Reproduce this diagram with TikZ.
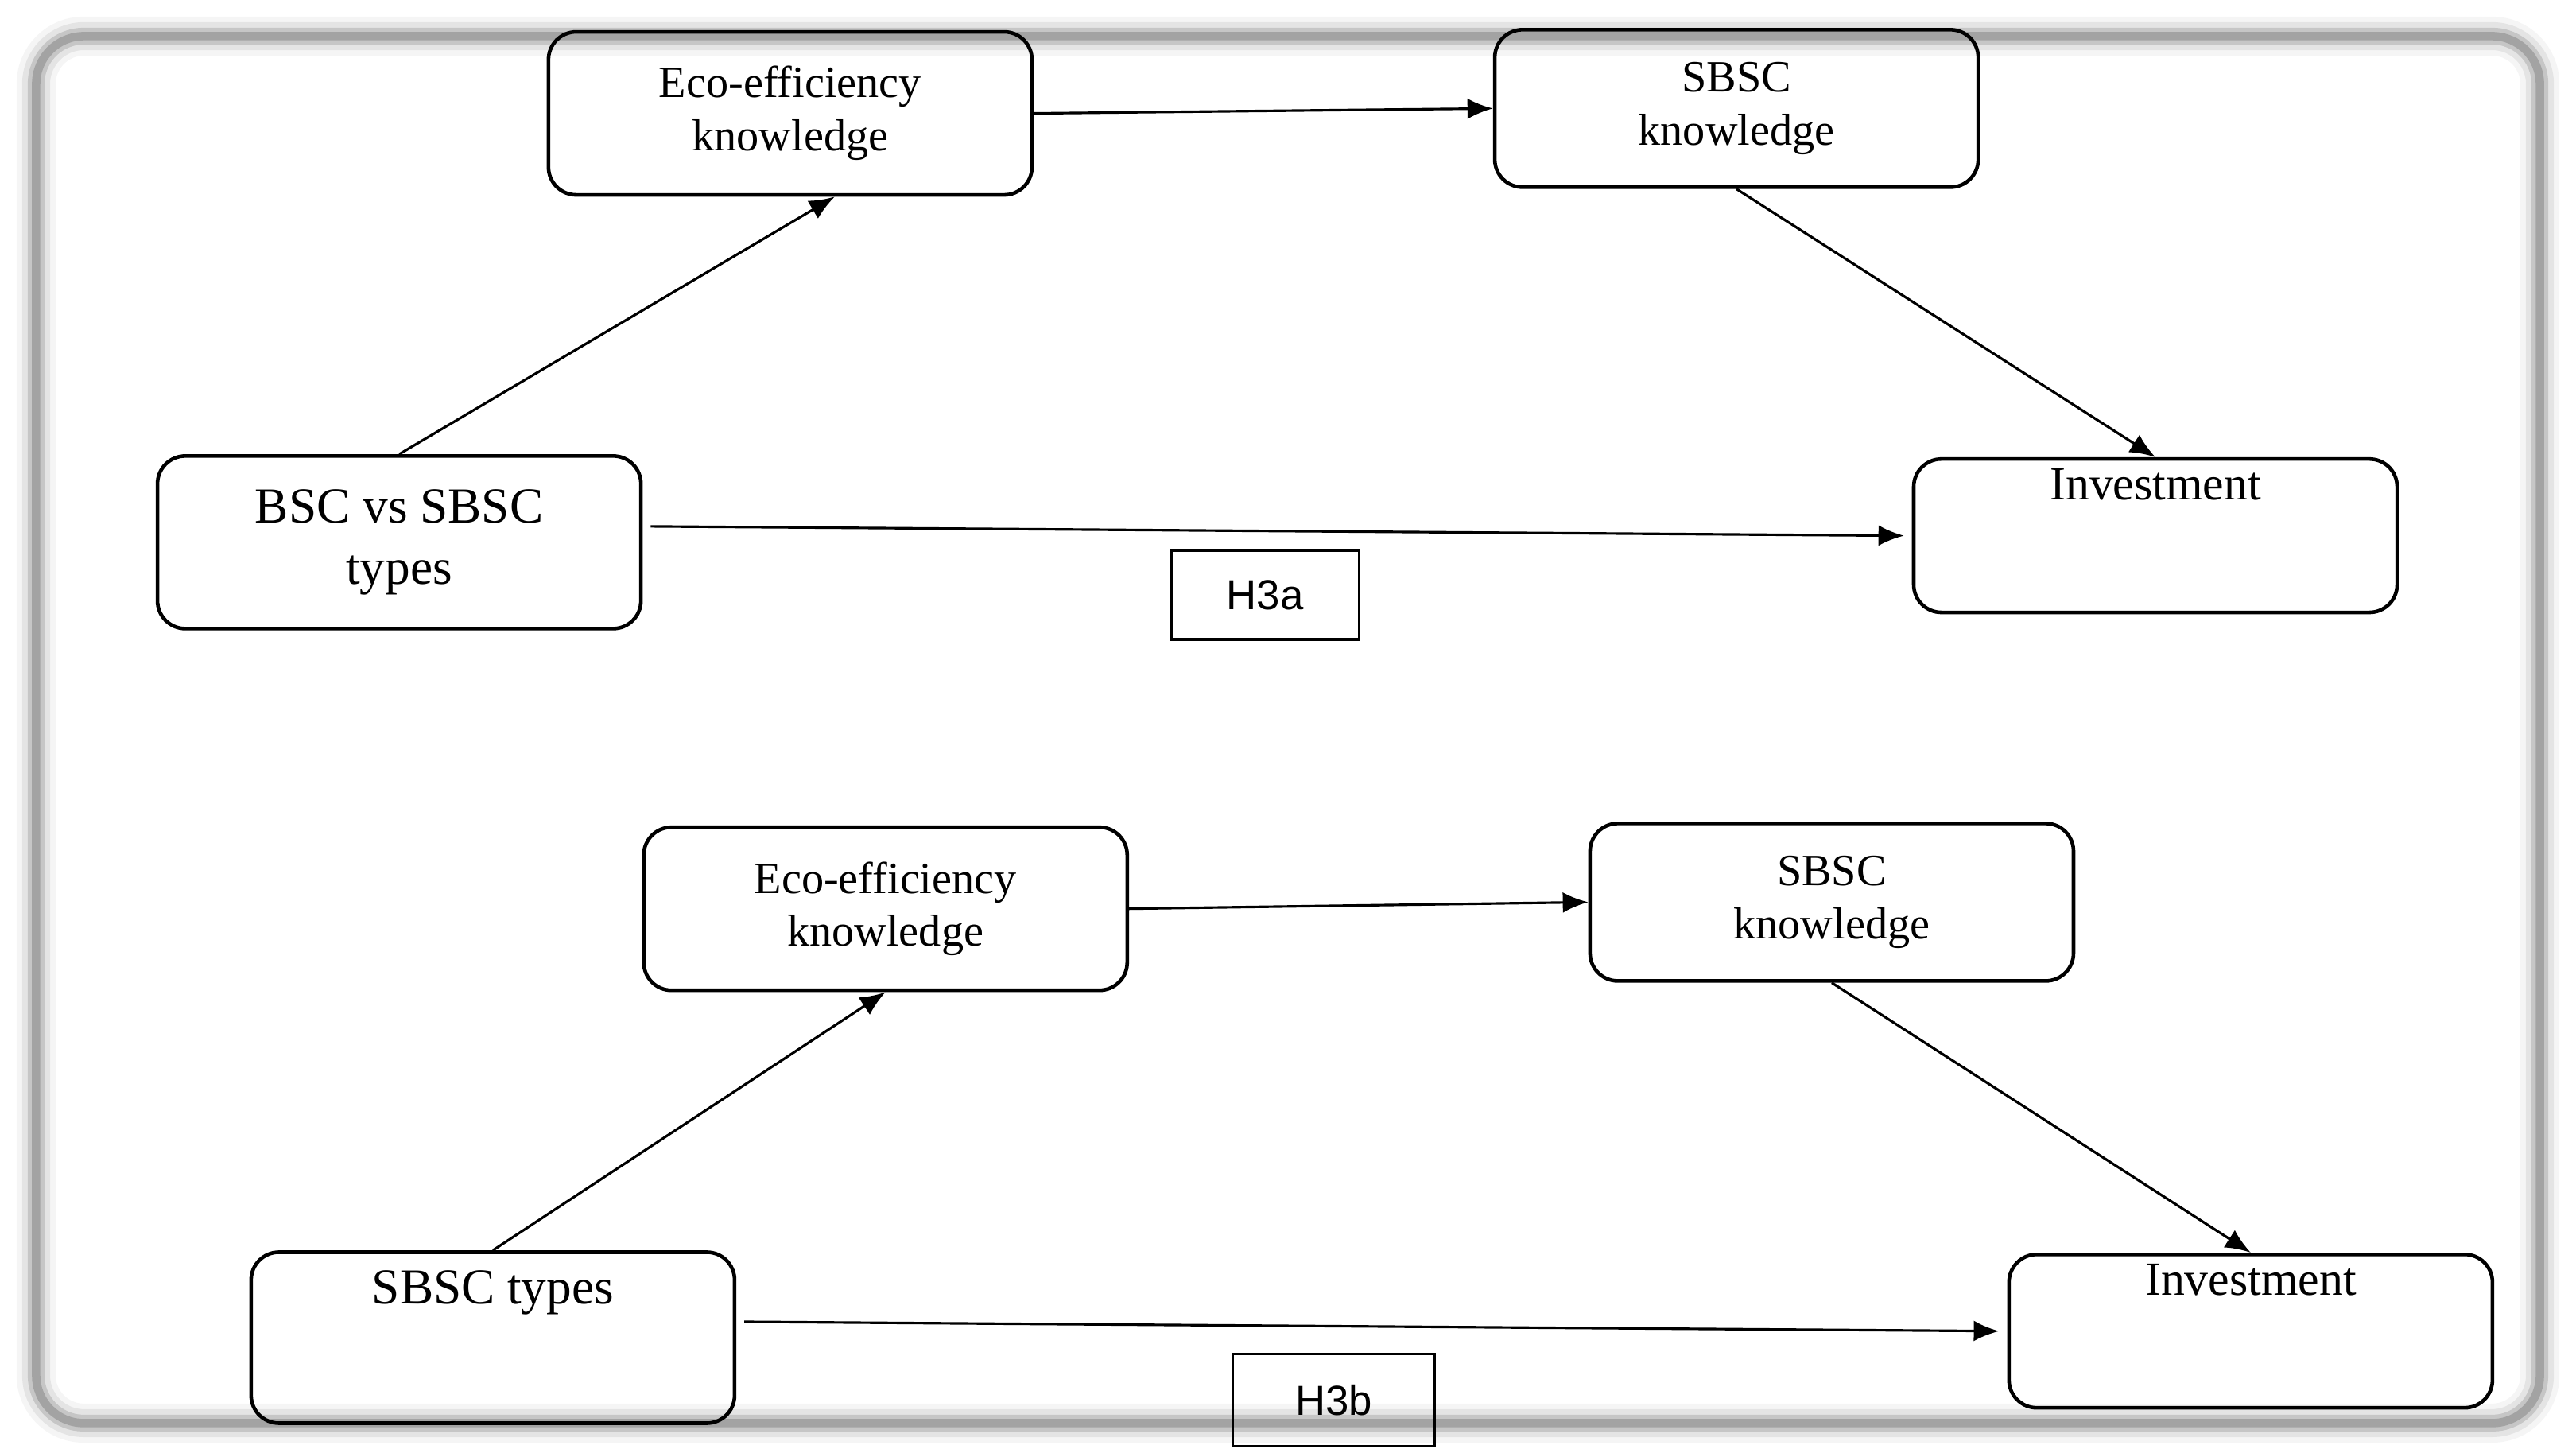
\documentclass[tikz,border=0pt]{standalone}
\usepackage{fontspec}
\setmainfont{Liberation Serif}
\newfontfamily\labelfont{Liberation Sans}
\usetikzlibrary{arrows.meta, positioning}

\begin{document}
\begin{tikzpicture}[
            x=0.02066cm, y=-0.02066cm,
            >={Latex[length=3.2mm,width=2.6mm]},
            concept/.style={
				rectangle,
				rounded corners=0.35cm,
				minimum width=6.08cm,
				align=center,
				draw=black,
				line width=1.3pt,
				font=\fontsize{16}{19}\selectfont
			},
            hyp/.style={
				rectangle,
				draw=black,
				line width=0.9pt,
				font=\labelfont\fontsize{15}{18}\selectfont
			},
            arrow/.style={
				line width=0.9pt,
				->
			}
        ]

        \useasboundingbox (0,0) rectangle (1568,884);

        % frame
        \foreach \w/\o in {14/0.08, 10/0.15, 6/0.3, 3/0.5}
            \draw [line width=\w pt, gray, opacity=\o, rounded corners=0.6cm] (22,22) rectangle (1546,866);

        % panel a
        \node (ecoA) [concept, minimum height=2.05cm] at (481,69) {Eco-efficiency\\knowledge};
        \node (sbscA) [concept, minimum height=1.98cm] at (1057,66) {SBSC\\knowledge};
        \node (bsc) [concept, minimum height=2.17cm, font=\fontsize{18}{22}\selectfont] at (243,330) {BSC vs SBSC\\types};
        \node (invA) [concept, minimum height=1.69cm, font=\fontsize{17}{20}\selectfont] at (1312,326) {Investment\\[0.6cm]};
        \node (hA) [hyp, minimum width=2.36cm, minimum height=1.12cm] at (770,362) {H3a};

        \draw [arrow] (bsc.north) -- ([xshift=0.56cm]ecoA.south);
        \draw [arrow] (ecoA.east) -- (sbscA.west);
        \draw [arrow] (sbscA.south) -- (invA.north);
        \draw [arrow] ([xshift=0.1cm,yshift=0.2cm]bsc.east) -- ([xshift=-0.1cm]invA.west);

        % panel b
        \node (ecoB) [concept, minimum height=2.05cm] at (539,553) {Eco-efficiency\\knowledge};
        \node (sbscB) [concept, minimum height=1.98cm] at (1115,549) {SBSC\\knowledge};
        \node (sbscT) [concept, minimum height=2.15cm, font=\fontsize{18}{22}\selectfont] at (300,814) {SBSC types\\[0.5cm]};
        \node (invB) [concept, minimum height=1.69cm, font=\fontsize{17}{20}\selectfont] at (1370,810) {Investment\\[0.6cm]};
        \node (hB) [hyp, minimum width=2.54cm, minimum height=1.16cm] at (812,852) {H3b};

        \draw [arrow] (sbscT.north) -- ([xshift=0.0cm]ecoB.south);
        \draw [arrow] (ecoB.east) -- (sbscB.west);
        \draw [arrow] (sbscB.south) -- (invB.north);
        \draw [arrow] ([xshift=0.1cm,yshift=0.2cm]sbscT.east) -- ([xshift=-0.1cm]invB.west);

        \end{tikzpicture}
\end{document}
